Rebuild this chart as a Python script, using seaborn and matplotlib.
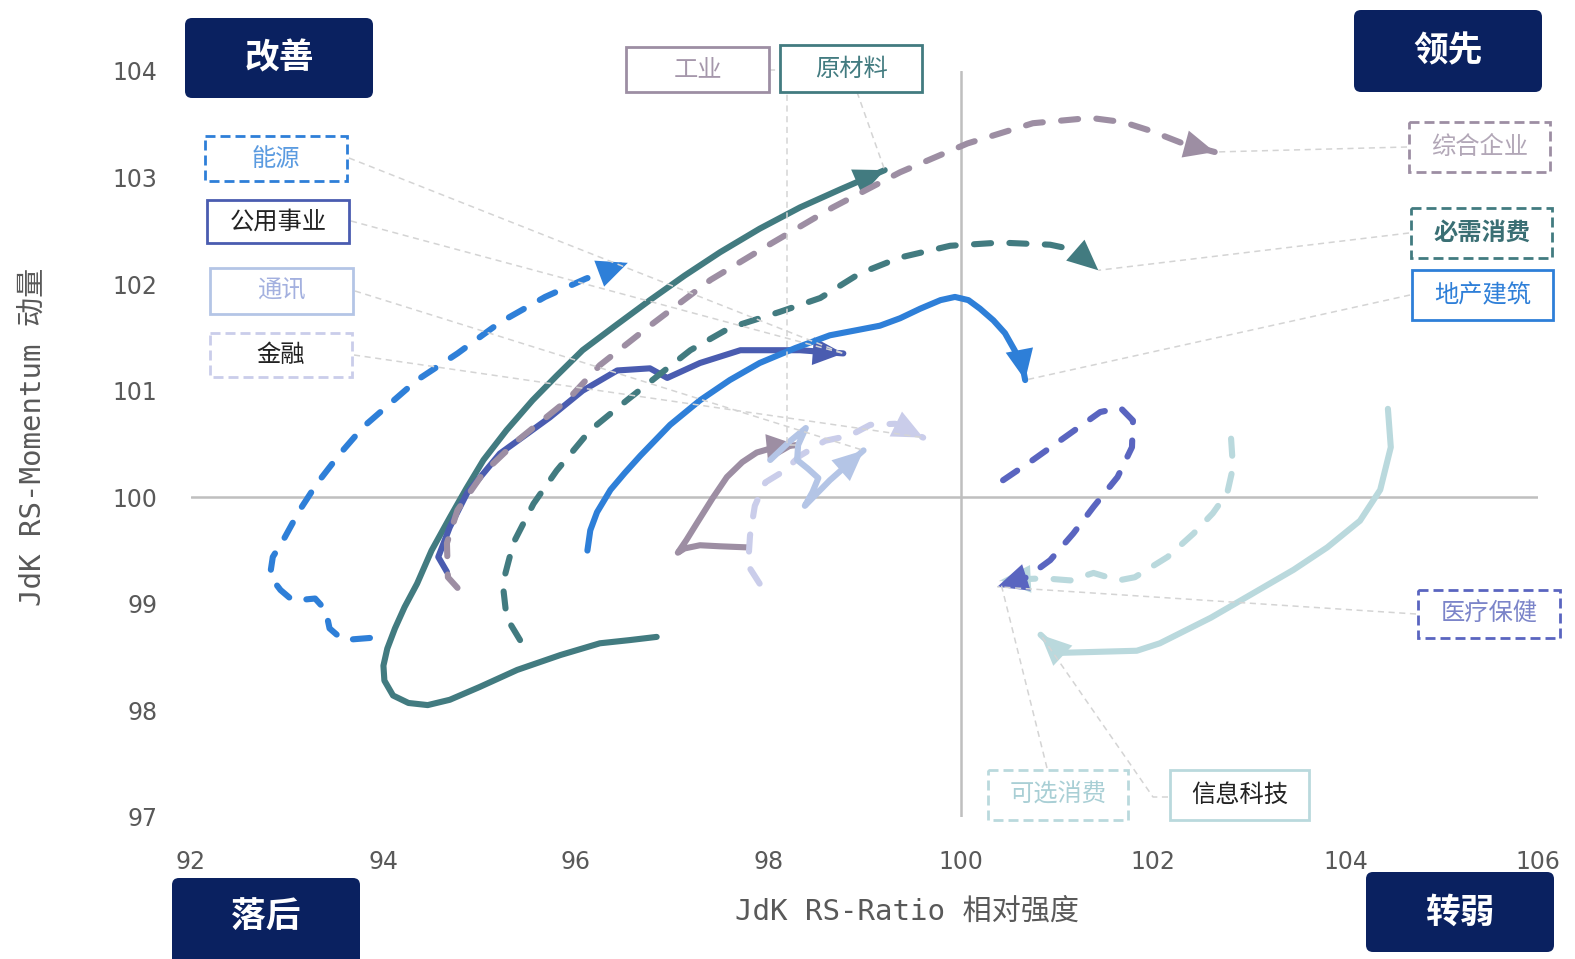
import matplotlib
matplotlib.use("Agg")
import matplotlib.pyplot as plt
import numpy as np
import pandas as pd
import seaborn as sns
from matplotlib.patches import Rectangle, FancyBboxPatch
from matplotlib import font_manager

# ---------------- data: RRG tails (RS-Ratio, RS-Momentum) ----------------
energy_x = [93.86, 93.58, 93.44, 93.40, 93.29, 93.06, 92.93, 92.82, 92.85, 92.96, 93.13,
            93.31, 93.55, 93.79, 94.07, 94.35, 94.77, 95.21, 95.68, 96.10, 96.54]
energy_y = [98.68, 98.66, 98.77, 98.94, 99.05, 99.03, 99.13, 99.26, 99.44, 99.60, 99.88,
            100.13, 100.41, 100.66, 100.88, 101.10, 101.35, 101.64, 101.88, 102.05, 102.20]

utilities_x = [94.66, 94.57, 94.69, 94.87, 95.21, 95.73, 96.07, 96.43, 96.77, 96.95, 97.29,
               97.71, 98.33, 98.78]
utilities_y = [99.30, 99.44, 99.72, 100.04, 100.41, 100.75, 101.00, 101.19, 101.21, 101.12,
               101.26, 101.38, 101.38, 101.35]

telecom_x = [98.02, 98.23, 98.39, 98.31, 98.30, 98.41, 98.52, 98.46, 98.38, 98.64, 98.99]
telecom_y = [100.35, 100.53, 100.65, 100.49, 100.35, 100.27, 100.18, 100.05, 99.92, 100.16, 100.44]

finance_x = [97.91, 97.79, 97.81, 97.86, 97.97, 98.17, 98.33, 98.59, 98.85, 99.06, 99.32, 99.61]
finance_y = [99.19, 99.36, 99.64, 99.92, 100.14, 100.25, 100.39, 100.53, 100.58, 100.68, 100.69, 100.56]

industrial_x = [97.78, 97.50, 97.29, 97.13, 97.06, 97.15, 97.26, 97.42, 97.57, 97.73, 97.88,
                98.07, 98.30]
industrial_y = [99.53, 99.54, 99.55, 99.52, 99.48, 99.60, 99.76, 99.99, 100.19, 100.33, 100.42,
                100.47, 100.49]

materials_x = [96.84, 96.56, 96.25, 95.84, 95.39, 95.00, 94.69, 94.46, 94.26, 94.10, 94.01,
               94.00, 94.04, 94.12, 94.22, 94.35, 94.50, 94.69, 94.86, 95.04, 95.28, 95.55,
               95.80, 96.07, 96.41, 96.77, 97.13, 97.50, 97.91, 98.33, 98.75, 99.21]
materials_y = [98.69, 98.66, 98.63, 98.52, 98.38, 98.22, 98.10, 98.05, 98.07, 98.14, 98.28,
               98.42, 98.58, 98.77, 98.97, 99.19, 99.50, 99.81, 100.08, 100.35, 100.63, 100.91,
               101.14, 101.38, 101.61, 101.85, 102.08, 102.30, 102.52, 102.72, 102.89, 103.07]

conglomerate_x = [94.77, 94.67, 94.66, 94.77, 95.04, 95.39, 95.91, 96.25, 96.77, 97.40, 97.99,
                  98.67, 99.37, 100.07, 100.75, 101.35, 101.69, 101.97, 102.31, 102.64]
conglomerate_y = [99.15, 99.25, 99.57, 99.88, 100.23, 100.53, 100.91, 101.24, 101.61, 102.04,
                  102.36, 102.72, 103.05, 103.32, 103.51, 103.56, 103.52, 103.44, 103.32, 103.24]

staples_x = [95.42, 95.28, 95.24, 95.35, 95.56, 95.80, 96.15, 96.53, 96.88, 97.19, 97.60, 98.12,
             98.54, 98.95, 99.37, 99.89, 100.41, 100.93, 101.19, 101.43]
staples_y = [98.66, 98.87, 99.19, 99.57, 99.94, 100.25, 100.63, 100.91, 101.16, 101.38, 101.59,
             101.74, 101.87, 102.10, 102.25, 102.36, 102.39, 102.37, 102.32, 102.13]

realestate_x = [96.12, 96.15, 96.22, 96.36, 96.51, 96.67, 96.98, 97.29, 97.60, 97.91, 98.28,
                98.64, 98.93, 99.16, 99.37, 99.58, 99.79, 99.94, 100.08, 100.20, 100.34,
                100.46, 100.56, 100.64, 100.67]
realestate_y = [99.50, 99.69, 99.86, 100.07, 100.23, 100.39, 100.68, 100.91, 101.10, 101.26,
                101.40, 101.52, 101.57, 101.61, 101.68, 101.77, 101.85, 101.88, 101.85, 101.77,
                101.66, 101.54, 101.38, 101.24, 101.10]

health_x = [100.44, 100.75, 101.03, 101.45, 101.66, 101.79, 101.78, 101.63, 101.38, 101.17,
            100.93, 100.69, 100.38]
health_y = [100.16, 100.35, 100.53, 100.80, 100.84, 100.72, 100.47, 100.19, 99.91, 99.66,
            99.41, 99.25, 99.16]

discretionary_x = [102.81, 102.83, 102.77, 102.62, 102.42, 102.15, 101.81, 101.64, 101.38,
                   101.14, 100.86, 100.41]
discretionary_y = [100.55, 100.28, 100.04, 99.85, 99.66, 99.44, 99.25, 99.22, 99.29, 99.22,
                   99.24, 99.22]

tech_x = [104.44, 104.47, 104.36, 104.15, 103.81, 103.46, 103.04, 102.60, 102.07, 101.83,
          101.03, 100.83]
tech_y = [100.83, 100.47, 100.07, 99.78, 99.53, 99.32, 99.10, 98.87, 98.63, 98.56, 98.54, 98.71]

x_ticks = [92, 94, 96, 98, 100, 102, 104, 106]
y_ticks = [97, 98, 99, 100, 101, 102, 103, 104]
quadrant_names = ["改善", "领先", "落后", "转弱"]

# ---------------- styling ----------------
BLUE = "#2E7FD8"
INDIGO = "#4A5CB0"
PERIWINKLE = "#5A65C0"
STEEL = "#B4C5E6"
LAVENDER = "#CACDEA"
MAUVE = "#9D8EA3"
TEAL = "#427B80"
AQUA = "#BAD9DD"
NAVY = "#0A2160"

series = [
    # name, x, y, colour, dashed
    ("原材料", materials_x, materials_y, TEAL, False),
    ("公用事业", utilities_x, utilities_y, INDIGO, False),
    ("综合企业", conglomerate_x, conglomerate_y, MAUVE, True),
    ("能源", energy_x, energy_y, BLUE, True),
    ("必需消费", staples_x, staples_y, TEAL, True),
    ("地产建筑", realestate_x, realestate_y, BLUE, False),
    ("工业", industrial_x, industrial_y, MAUVE, False),
    ("金融", finance_x, finance_y, LAVENDER, True),
    ("通讯", telecom_x, telecom_y, STEEL, False),
    ("信息科技", tech_x, tech_y, AQUA, False),
    ("可选消费", discretionary_x, discretionary_y, AQUA, True),
    ("医疗保健", health_x, health_y, PERIWINKLE, True),
]

sns.set_theme(style="white")
names = {f.name for f in font_manager.fontManager.ttflist}
tick_family = ["Liberation Sans Narrow", "DejaVu Sans"] if "Liberation Sans Narrow" in names else ["DejaVu Sans"]
tick_size = 21 if "Liberation Sans Narrow" in names else 17
plt.rcParams["font.family"] = ["Noto Sans CJK SC", "DejaVu Sans"]

W, H = 1575, 959
fig = plt.figure(figsize=(W / 100, H / 100), dpi=100)
fig.patch.set_facecolor("white")

ax = fig.add_axes([191 / W, 1 - 817 / H, (1538 - 191) / W, (817 - 71) / H])
ax.set_facecolor("none")

ax.axhline(100, color="#BFBFBF", lw=1.8, zorder=1)
ax.axvline(100, color="#BFBFBF", lw=1.8, zorder=1)

LW = 4.4
for i, (name, xs, ys, col, dashed) in enumerate(series):
    df = pd.DataFrame({"x": xs, "y": ys})
    kw = dict(linestyle=(0, (2.8, 3.0))) if dashed else {}
    sns.lineplot(data=df, x="x", y="y", sort=False, estimator=None, color=col,
                 lw=LW, ax=ax, legend=False, zorder=3 + i, **kw)
    ln = ax.lines[-1]
    ln.set_dash_capstyle("round")
    ln.set_solid_capstyle("round")
    ln.set_solid_joinstyle("round")
    ln.set_dash_joinstyle("round")
    ax.annotate("", xy=(xs[-1], ys[-1]), xytext=(xs[-2], ys[-2]),
                arrowprops=dict(arrowstyle="-|>,head_length=2.2,head_width=1.0",
                                mutation_scale=10, color=col, lw=0,
                                shrinkA=0, shrinkB=0),
                zorder=3 + i)

ax.set_xlim(92, 106)
ax.set_ylim(97, 104)
ax.set_xticks(x_ticks)
ax.set_yticks(y_ticks)
ax.set_xticklabels([str(t) for t in x_ticks], family=tick_family, size=tick_size, color="#595959")
ax.set_yticklabels([str(t) for t in y_ticks], family=tick_family, size=tick_size, color="#595959")
ax.tick_params(axis="both", length=0)
ax.tick_params(axis="y", pad=24)
ax.tick_params(axis="x", pad=24)
ax.set_xlabel("")
ax.set_ylabel("")
for s in ax.spines.values():
    s.set_visible(False)

label_family = ["DejaVu Sans Mono", "Noto Sans CJK SC"]
fig.text(907 / W, 1 - 912 / H, "JdK RS-Ratio 相对强度", family=label_family, size=21,
         color="#595959", ha="center", va="center")
fig.text(33 / W, 1 - 437 / H, "JdK RS-Momentum 动量", family=label_family, size=21,
         color="#595959", ha="center", va="center", rotation=90)

# ---------------- pixel overlay for boxes and leaders ----------------
ov = fig.add_axes([0, 0, 1, 1], zorder=10)
ov.set_xlim(0, W)
ov.set_ylim(H, 0)
ov.axis("off")
ov.patch.set_alpha(0)

tips = {name: (xs[-1], ys[-1]) for name, xs, ys, _, _ in series}


def tip_px(name):
    dx, dy = ax.transData.transform(tips[name])
    return dx, H - dy


corners = [
    ("改善", 185, 18, 373, 98),
    ("领先", 1354, 10, 1542, 92),
    ("落后", 172, 878, 360, 975),
    ("转弱", 1366, 872, 1554, 952),
]
for text, x0, y0, x1, y1 in corners:
    ov.add_patch(FancyBboxPatch((x0, y0), x1 - x0, y1 - y0,
                                boxstyle="round,pad=0,rounding_size=7",
                                fc=NAVY, ec=NAVY, lw=0, clip_on=False))
    yc = (y0 + y1) / 2 if y1 <= H else y0 + 38
    ov.text((x0 + x1) / 2, yc, text, color="white", size=25, weight="bold",
            ha="center", va="center")

labels = [
    # name, box, edge, dashed, text colour, bold, leader start
    ("工业", (626, 47, 769, 92), MAUVE, False, "#A597AB", False, [(769, 70), (787, 70), "down"]),
    ("原材料", (780, 45, 922, 92), TEAL, False, TEAL, False, [(857, 92)]),
    ("能源", (205, 136, 347, 181), BLUE, True, "#5B9BE0", False, [(349, 158)]),
    ("公用事业", (207, 200, 349, 243), INDIGO, False, "#222222", False, [(351, 221)]),
    ("通讯", (210, 268, 353, 314), STEEL, False, "#A3B0DF", False, [(355, 291)]),
    ("金融", (210, 333, 352, 377), LAVENDER, True, "#222222", False, [(354, 355)]),
    ("综合企业", (1409, 122, 1550, 172), MAUVE, True, "#B2A7B7", False, [(1407, 147)]),
    ("必需消费", (1411, 208, 1552, 258), TEAL, True, "#3A6F74", True, [(1409, 233)]),
    ("地产建筑", (1412, 270, 1553, 320), BLUE, False, BLUE, False, [(1410, 295)]),
    ("医疗保健", (1418, 590, 1560, 638), PERIWINKLE, True, "#7B84C9", False, [(1416, 614)]),
    ("可选消费", (988, 770, 1128, 820), AQUA, True, "#A9CFD5", False, [(1047, 768)]),
    ("信息科技", (1170, 770, 1309, 820), AQUA, False, "#222222", False, [(1168, 797), (1153, 797)]),
]

leader_target = {"能源": "公用事业"}

for name, (x0, y0, x1, y1), ec, dashed, tc, bold, lead in labels:
    ls = (0, (3.6, 1.8)) if dashed else "-"
    ov.add_patch(Rectangle((x0, y0), x1 - x0, y1 - y0, fc="white", ec=ec, lw=2.0,
                           ls=ls, clip_on=False, zorder=3))
    ov.text((x0 + x1) / 2, (y0 + y1) / 2, name, color=tc, size=17.5,
            weight="bold" if bold else "normal", ha="center", va="center", zorder=4)
    tx, ty = tip_px(leader_target.get(name, name))
    pts = []
    for p in lead:
        if p == "down":
            pts.append((pts[-1][0], ty))
        else:
            pts.append(p)
    pts.append((tx, ty))
    px, py = zip(*pts)
    ov.plot(px, py, color="#D4D4D4", lw=1.1, ls=(0, (4, 3)), zorder=1, clip_on=False)

fig.savefig("out.png", dpi=100, facecolor="white")
